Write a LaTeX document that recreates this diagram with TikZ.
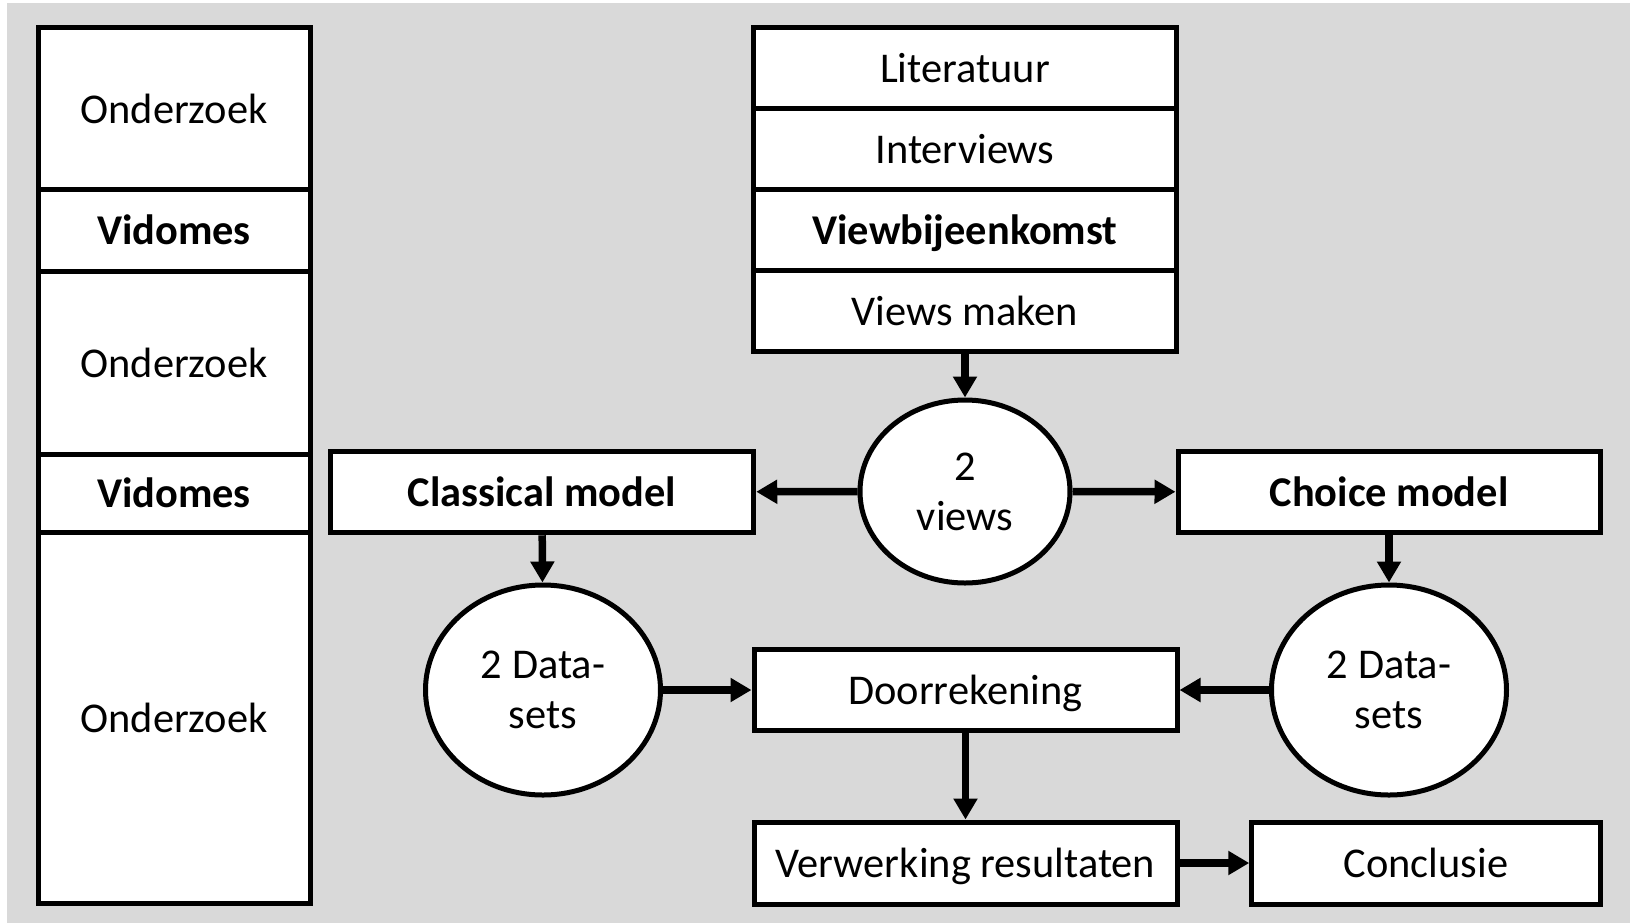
\documentclass[tikz,border=0pt]{standalone}
\usepackage{fontspec}
\setmainfont{Carlito}
\usepackage{tikz}
\usetikzlibrary{positioning, arrows.meta, shapes.geometric}
\definecolor{bggray}{RGB}{217, 217, 217}

\begin{document}
\begin{tikzpicture}[
			x=0.5pt, y=-0.5pt,
			lcell/.style={rectangle, draw, fill=white, line width=2.5pt, outer sep=0pt, minimum width=136pt, text height=14.5pt, text depth=0pt, font=\fontsize{21.2}{25}\selectfont},
			tcell/.style={lcell, minimum width=211.25pt, minimum height=40.5pt},
			box/.style={rectangle, draw, fill=white, line width=2.5pt, minimum width=211.5pt, minimum height=40.75pt, text height=14.5pt, text depth=0pt, font=\fontsize{21.2}{25}\selectfont},
			bubble/.style={ellipse, draw, fill=white, line width=2.5pt, inner sep=0pt, align=center, font=\fontsize{21.2}{25}\selectfont},
			arrow/.style={line width=3.75pt, -{Triangle[length=10.5pt, width=11.5pt]}}
		]

		\useasboundingbox (0,0) rectangle (1630,923);
		\fill[bggray] (7,3) rectangle (1630,923);

		% left column
		\node (ond1) [lcell, minimum height=81pt, anchor=north] at (174,27.5) {Onderzoek};
		\node (vid1) [lcell, minimum height=40.75pt, below=0pt of ond1] {\textbf{Vidomes}};
		\node (ond2) [lcell, minimum height=91.5pt, below=0pt of vid1] {Onderzoek};
		\node (vid2) [lcell, minimum height=39pt, below=0pt of ond2] {\textbf{Vidomes}};
		\node (ond3) [lcell, minimum height=185.5pt, below=0pt of vid2] {Onderzoek};

		% top stack
		\node (lit) [tcell, anchor=north] at (965,27.5) {Literatuur};
		\node (intv) [tcell, below=0pt of lit] {Interviews};
		\node (vbijeen) [tcell, below=0pt of intv] {\textbf{Viewbijeenkomst}};
		\node (vmaken) [tcell, below=0pt of vbijeen] {Views maken};

		\node (views) [bubble, minimum width=105pt, minimum height=91.5pt] at (965,491.5) {2\\views};

		\node (classical) [box, minimum width=211.75pt] at (542,492) {\textbf{Classical model}};
		\node (choice) [box, minimum width=211pt] at (1389,492) {\textbf{Choice model}};

		\node (dataL) [bubble, minimum width=117.5pt, minimum height=105pt] at (543,690) {2 Data-\\sets};
		\node (dataR) [bubble, minimum width=117.5pt, minimum height=105pt] at (1389,690) {2 Data-\\sets};

		\node (doorrek) [box] at (965.5,690) {Doorrekening};
		\node (verwerk) [box, minimum height=41pt] at (965.5,863) {Verwerking resultaten};
		\node (concl) [box, minimum width=174.25pt, minimum height=41pt] at (1426,863) {Conclusie};

		\draw[arrow] (vmaken) -- (views);
		\draw[arrow] (views) -- (classical);
		\draw[arrow] (views) -- (choice);
		\draw[arrow] (classical) -- (dataL);
		\draw[arrow] (choice) -- (dataR);
		\draw[arrow] (dataL) -- (doorrek);
		\draw[arrow] (dataR) -- (doorrek);
		\draw[arrow] (doorrek) -- (verwerk);
		\draw[arrow] (verwerk) -- (concl);

	\end{tikzpicture}
\end{document}
